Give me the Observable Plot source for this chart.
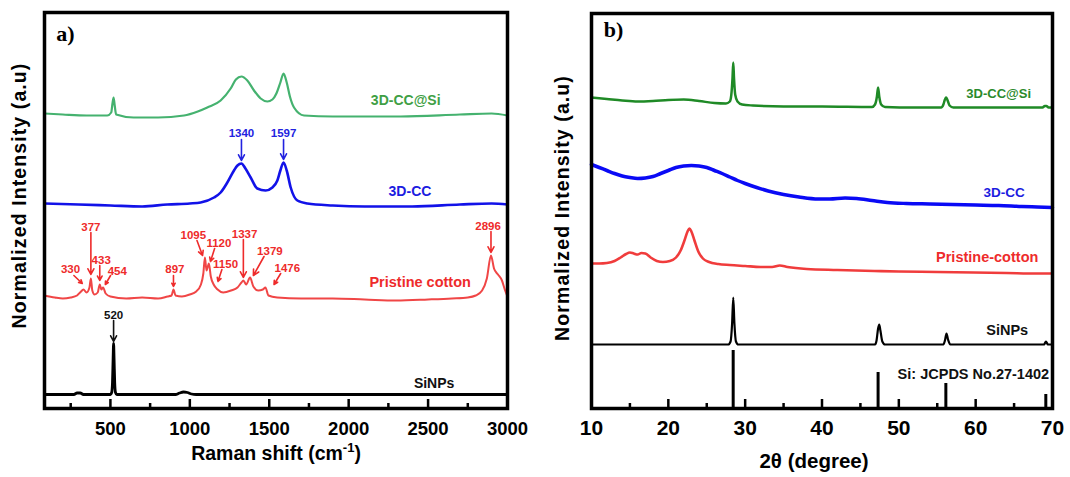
<!DOCTYPE html>
<html>
<head>
<meta charset="utf-8">
<script src="https://cdn.jsdelivr.net/npm/d3@7"></script>
<script src="https://cdn.jsdelivr.net/npm/@observablehq/plot@0.6"></script>
<style>
  html, body { margin: 0; padding: 0; background: #fff; }
  #wrap { display: flex; width: 1070px; height: 477px; overflow: hidden; }
</style>
</head>
<body>
<div id="wrap"></div>
<script>
// ---------------- Panel a: Raman spectra (x: cm-1, y: stacked intensity, a.u.) ----------------
const ramanCCSi = [[85,295],[200,294],[350,293],[480,293],[505,296],[513,305],[520,311],[527,303],[536,294],[646,291],[800,291],[963,293],[1050,297],[1110,301],[1194,308],[1257,320],[1290,329],[1325,332],[1362,328],[1404,318],[1446,310],[1488,307],[1520,309],[1545,315],[1570,326],[1590,335],[1610,326],[1630,312],[1656,301],[1719,293],[1900,292],[2328,292],[2700,294],[2900,295],[3000,293]];
const ramanCC = [[85,205],[300,204],[500,203],[700,202],[858,204],[1000,205],[1068,206],[1152,211],[1194,216],[1236,226],[1278,238],[1300,243],[1325,245],[1350,240],[1383,231],[1425,220],[1477,218],[1520,221],[1551,228],[1570,238],[1590,246],[1610,238],[1635,221],[1677,208],[1740,205],[1900,203],[2100,202],[2400,202],[2700,204],[2900,205],[3000,204]];
const ramanCotton = [[85,113],[150,111],[200,110],[250,111],[290,113],[315,117],[330,119],[350,116],[368,121],[377,130],[386,118],[400,114],[420,116],[433,124],[443,119],[454,121],[470,115],[500,112],[600,110],[700,111],[800,110],[860,112],[885,113],[897,119],[910,113],[950,112],[1000,114],[1040,117],[1070,124],[1085,135],[1095,151],[1105,138],[1120,145],[1132,132],[1150,124],[1175,119],[1210,116],[1260,118],[1300,121],[1325,126],[1337,128],[1355,124],[1379,131],[1400,122],[1430,118],[1460,119],[1476,121],[1495,113],[1550,111],[1700,110],[1900,110],[2100,109],[2300,108],[2500,109],[2650,110],[2750,111],[2800,113],[2840,118],[2870,130],[2896,153],[2915,140],[2940,134],[2965,128],[2985,118],[3000,112]];
const ramanSiNPs = [[85,14],[270,14],[290,15.5],[310,15.5],[330,14],[500,14],[508,16],[513,26],[517,50],[520,65],[523,50],[527,26],[532,16],[540,14],[910,14],[935,15.5],[960,16.5],[985,16],[1010,14.5],[1040,14],[3000,14]];
const ramanMajorTicks = [500, 1000, 1500, 2000, 2500, 3000];
const ramanMinorTicks = [250, 750, 1250, 1750, 2250, 2750];

// peak annotations (label, text point, arrow from -> to), in data units
const cottonPeaks = ["330","377","433","454","897","1095","1120","1150","1337","1379","1476","2896"];
const cottonPeakText = [[249,139],[377,181],[442,148],[543,137],[906,139],[1022,173],[1183,165],[1225,144],[1345,174],[1504,157],[1614,140],[2878,182]];
const cottonArrows = [[270,133,323,125],[377,176,377,134],[433,143,433,128],[501,133,468,124],[897,133,897,122],[1045,168,1080,153],[1156,160,1130,147],[1202,139,1177,127],[1337,169,1337,131],[1467,152,1400,133],[1572,135,1530,124],[2896,177,2896,156]];
const ccPeaks = ["1340","1597"];
const ccPeakText = [[1325,275],[1590,275]];
const ccArrows = [[1325,269,1325,248],[1590,269,1590,249]];
const siPeaks = ["520"];
const siPeakText = [[520,93]];
const siArrows = [[520,88,520,67]];

// ---------------- Panel b: XRD patterns (x: 2θ, y: stacked intensity, a.u.) ----------------
const xrdCCSi = [[10,311],[12,309.5],[14,308],[16,307],[18,307.5],[20,308.5],[22,309],[24,307.5],[26,305.5],[27.5,305],[28,307],[28.2,314],[28.35,330],[28.45,346],[28.55,330],[28.7,314],[29,307],[29.6,304],[31,303],[35,302],[40,302],[46.5,301.5],[46.9,304],[47.15,312],[47.3,321],[47.45,312],[47.7,304],[48.2,301.5],[52,301],[55.5,301],[55.8,304],[56,309],[56.15,311],[56.3,309],[56.6,303],[57.1,301],[62,301],[68.7,301],[69,302.5],[69.2,302.5],[69.5,301],[70,301]];
const xrdCC = [[10,244],[11,241],[12,238],[13,235],[14,232.5],[15,231],[16,230],[17,230.5],[18,232],[19,235],[20,238],[21,241],[22,242.5],[23,243],[24,242.5],[25,241],[26,238],[27,235],[28,231.5],[29,228],[30,225],[31.5,221],[33,217.5],[35,214],[37,211.5],[39.5,209.5],[41,209.5],[43,210.5],[44.5,210],[46.5,208],[48.5,206],[51,205],[54,204.5],[57,204],[60,203.5],[63,203],[66,202],[68,201.5],[70,201]];
const xrdCotton = [[10,145],[11,145],[12,145.5],[13,147.5],[13.8,151],[14.5,154.5],[15,156],[15.5,155],[16,154],[16.5,155.5],[17,155],[17.7,151],[18.5,147.5],[19.3,146.5],[20.2,147.5],[21,151],[21.6,158],[22.1,168],[22.5,177],[22.75,180],[23,177],[23.4,168],[23.9,157],[24.5,150],[25.3,146.5],[26.5,144.5],[28,143.5],[30,142.5],[32,141.5],[33.5,141.5],[34.5,143],[35.5,141.5],[38,139.5],[42,138.5],[46.8,137.5],[50,137],[55,136.5],[59.7,136],[64,135.5],[68,135],[70,135]];
const xrdSiNPs = [[10,64],[27.8,64],[28.1,67],[28.3,85],[28.45,111],[28.6,85],[28.8,67],[29.1,64],[46.9,64],[47.1,68],[47.3,80],[47.45,84],[47.6,78],[47.85,67],[48.2,64],[55.8,64],[56,68],[56.2,75],[56.4,69],[56.7,64],[68.9,64],[69.15,67],[69.4,64],[70,64]];
const jcpdsAngles = [28.44, 47.30, 56.12, 69.13];
const jcpdsHeights = [58, 36, 25, 14];
const xrdMajorTicks = [10, 20, 30, 40, 50, 60, 70];
const xrdMinorTicks = [15, 25, 35, 45, 55, 65];

const FONT = "'Liberation Sans', Arial, Helvetica, sans-serif";
const NARROW = "'Liberation Sans Narrow', 'Arial Narrow', 'Liberation Sans', sans-serif";
const SERIF = "'Liberation Serif', 'Times New Roman', serif";
const xv = d => d[0], yv = d => d[1];

function label(x, y, text, fill, size, extra = {}) {
  return Plot.text([text], {x: () => x, y: () => y, text: d => d, fill, fontSize: size, fontWeight: "bold", ...extra});
}
function frameText(text, anchor, dx, dy, size, extra = {}) {
  return Plot.text([text], {frameAnchor: anchor, dx, dy, text: d => d, textAnchor: "middle", lineAnchor: "middle", fontSize: size, fontWeight: "bold", ...extra});
}
function annotations(names, textPos, arrows, color) {
  return [
    Plot.arrow(arrows, {x1: d => d[0], y1: d => d[1], x2: d => d[2], y2: d => d[3], stroke: color, strokeWidth: 1.6, headLength: 6, headAngle: 55}),
    Plot.text(names, {x: (d, i) => textPos[i][0], y: (d, i) => textPos[i][1], text: d => d, fill: color, fontSize: 11.5, fontWeight: "bold", fontFamily: NARROW})
  ];
}
// inward ticks drawn up from the bottom frame (y units are ~1 px)
function inwardTicks(major, minor) {
  return [
    Plot.ruleX(minor, {x: d => d, y1: 0, y2: 5, stroke: "#000", strokeWidth: 2.5}),
    Plot.ruleX(major, {x: d => d, y1: 0, y2: 9, stroke: "#000", strokeWidth: 2.5})
  ];
}

const plotA = Plot.plot({
  width: 535, height: 477,
  marginLeft: 44, marginRight: 28, marginTop: 12, marginBottom: 69,
  x: {domain: [85, 3000]},
  y: {domain: [0, 396], axis: null},
  style: {fontFamily: FONT, background: "#fff", overflow: "visible"},
  marks: [
    Plot.line(ramanCCSi, {x: xv, y: yv, stroke: "#45b26f", strokeWidth: 2.2, curve: "monotone-x"}),
    Plot.line(ramanCC, {x: xv, y: yv, stroke: "#1212e8", strokeWidth: 2.6, curve: "monotone-x"}),
    Plot.line(ramanCotton, {x: xv, y: yv, stroke: "#f04646", strokeWidth: 2, curve: "monotone-x"}),
    Plot.line(ramanSiNPs, {x: xv, y: yv, stroke: "#000", strokeWidth: 2.8, curve: "monotone-x"}),
    ...annotations(cottonPeaks, cottonPeakText, cottonArrows, "#ee2b2b"),
    ...annotations(ccPeaks, ccPeakText, ccArrows, "#2222e0"),
    ...annotations(siPeaks, siPeakText, siArrows, "#111"),
    label(2359, 308, "3D-CC@Si", "#3f9f45", 14),
    label(2386, 217, "3D-CC", "#1c1ce0", 14),
    label(2450, 126, "Pristine cotton", "#ee2b2b", 14.5),
    label(2538, 25, "SiNPs", "#111", 14),
    ...inwardTicks(ramanMajorTicks, ramanMinorTicks),
    Plot.frame({stroke: "#000", strokeWidth: 3.5}),
    Plot.axisX({ticks: ramanMajorTicks, tickSize: 0, tickPadding: 13.4, tickFormat: d => String(d), fontSize: 18.5, fontWeight: "bold", label: null}),
    frameText("a)", "top-left", 21, 21, 22, {fontFamily: SERIF}),
    frameText("Normalized Intensity (a.u)", "left", -25, -15, 19.5, {rotate: -90}),
    frameText("Raman shift (cm-1)", "bottom", 0, 45, 19.5)
  ]
});

const plotB = Plot.plot({
  width: 535, height: 477,
  marginLeft: 56, marginRight: 18, marginTop: 13, marginBottom: 69,
  x: {domain: [10, 70]},
  y: {domain: [0, 395], axis: null},
  style: {fontFamily: FONT, background: "#fff", overflow: "visible"},
  marks: [
    Plot.line(xrdCCSi, {x: xv, y: yv, stroke: "#1f8a26", strokeWidth: 2.5, curve: "monotone-x"}),
    Plot.line(xrdCC, {x: xv, y: yv, stroke: "#0a0af5", strokeWidth: 3.5, curve: "monotone-x"}),
    Plot.line(xrdCotton, {x: xv, y: yv, stroke: "#f03c3c", strokeWidth: 2.6, curve: "monotone-x"}),
    Plot.line(xrdSiNPs, {x: xv, y: yv, stroke: "#000", strokeWidth: 2.2, curve: "monotone-x"}),
    Plot.ruleX(jcpdsAngles, {x: d => d, y1: 0, y2: (d, i) => jcpdsHeights[i], stroke: "#000", strokeWidth: 3}),
    label(63.0, 315, "3D-CC@Si", "#2b8a2b", 13),
    label(63.7, 216, "3D-CC", "#1c1ce0", 13.5),
    label(61.5, 151, "Pristine-cotton", "#ee2b2b", 14.5),
    label(64.1, 78, "SiNPs", "#111", 14.5),
    label(59.7, 34, "Si: JCPDS No.27-1402", "#111", 14.5),
    ...inwardTicks(xrdMajorTicks, xrdMinorTicks),
    Plot.frame({stroke: "#000", strokeWidth: 3.5}),
    Plot.axisX({ticks: xrdMajorTicks, tickSize: 0, tickPadding: 11.2, tickFormat: d => String(d), fontSize: 21, fontWeight: "bold", label: null}),
    frameText("b)", "top-left", 22, 16, 22, {fontFamily: SERIF}),
    frameText("Normalized Intensity (a.u)", "left", -29, -3, 19.5, {rotate: -90}),
    frameText("2θ (degree)", "bottom", -8, 53, 20.5)
  ]
});

const wrap = document.getElementById("wrap");
wrap.appendChild(plotA);
wrap.appendChild(plotB);

// typographic touches: letter spacing on the y titles, superscript on cm-1
for (const svg of [plotA, plotB]) {
  svg.querySelectorAll("text").forEach(t => {
    if (t.textContent === "Normalized Intensity (a.u)") t.setAttribute("letter-spacing", "1.1");
    if (t.textContent === "Raman shift (cm-1)") {
      t.textContent = "";
      const ns = "http://www.w3.org/2000/svg";
      const a = document.createElementNS(ns, "tspan"); a.textContent = "Raman shift (cm";
      const b = document.createElementNS(ns, "tspan"); b.textContent = "-1"; b.setAttribute("dy", "-8"); b.setAttribute("font-size", "13");
      const c = document.createElementNS(ns, "tspan"); c.textContent = ")"; c.setAttribute("dy", "8");
      t.append(a, b, c);
    }
  });
}
</script>
</body>
</html>
